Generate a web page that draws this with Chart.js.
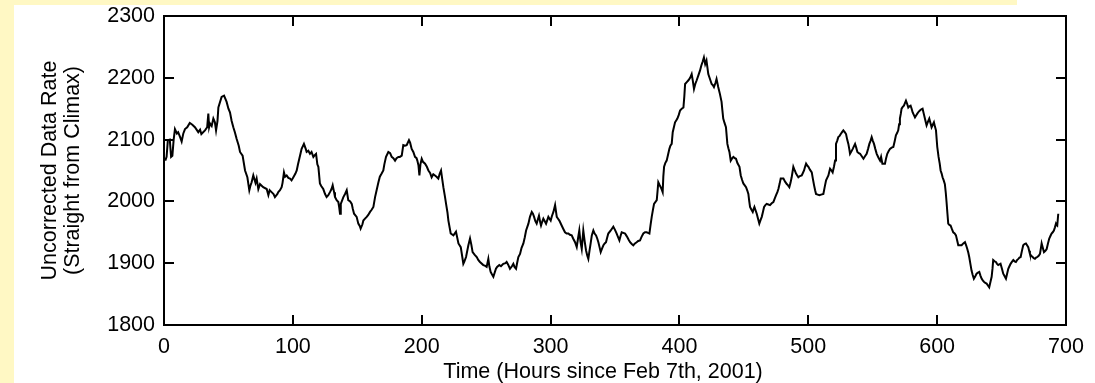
<!DOCTYPE html>
<html>
<head>
<meta charset="utf-8">
<script src="https://cdn.jsdelivr.net/npm/chart.js@4.4.1/dist/chart.umd.min.js"></script>
<style>
  html, body { margin: 0; padding: 0; background: #fff; }
  body { width: 1095px; height: 383px; position: relative; overflow: hidden; }
  .strip { position: absolute; background: #fff8c4; }
  #top { left: 0; top: 0; width: 1017px; height: 5px; }
  #left { left: 0; top: 0; width: 14px; height: 383px; }
  #wrap { position: absolute; left: 14px; top: 5px; width: 1081px; height: 378px; }
</style>
</head>
<body>
<div class="strip" id="top"></div>
<div class="strip" id="left"></div>
<div id="wrap"><canvas id="chart" width="1081" height="378"></canvas></div>
<script>
// Uncorrected data rate, hour by hour (roughly)
const hours = [
  1, 2, 3, 4.5, 5.5, 6.5, 7.5, 8.5, 10, 11,
  12.5, 13.7, 15, 16.3, 18, 20, 22, 24, 26.6, 28,
  29, 31.8, 33.5, 34.4, 35, 35.7, 37, 38.3, 39.5, 40.4,
  41.5, 42.2, 44.7, 46.6, 48.6, 50, 51.2, 52.5, 53.8, 55,
  56.4, 58, 59, 61, 62.9, 64.7, 66.2, 67, 68, 69.3,
  71, 71.9, 73.2, 74.5, 76, 77, 79.7, 81, 82, 83.5,
  85, 86.1, 88, 88.7, 90, 91.3, 92, 93.1, 94, 95.2,
  96.5, 97.8, 99, 100.4, 102, 103, 104, 105, 106, 106.8,
  108.6, 110, 110.7, 112, 113.3, 114.5, 115.9, 117, 118, 119,
  119.8, 121, 122, 123.6, 125, 126.2, 127.5, 128.8, 130, 130.9,
  132, 132.7, 134, 135.3, 136, 136.6, 137.2, 139.2, 140.5, 141.8,
  143, 144.5, 145.7, 146.5, 147.5, 149.5, 150.8, 152, 152.6, 154,
  154.7, 156, 157.3, 158.5, 159.9, 161, 162.5, 163.8, 165, 166.4,
  167.5, 168.9, 170.2, 171, 172.3, 174.1, 175.5, 176.7, 178, 179.3,
  180.5, 181.9, 183, 184.5, 185.7, 187, 188.3, 190.1, 191, 192.2,
  193.5, 194.8, 196, 196.6, 197.5, 198.2, 199, 200, 201, 202.6,
  204, 205.2, 206.5, 207.7, 209, 210.3, 211.5, 212.9, 214, 215,
  216, 216.8, 218, 218.9, 220, 220.7, 222.5, 224.6, 226.6, 228.5,
  230.3, 231.5, 232.3, 233, 234.4, 236.2, 237.5, 238.5, 239.5, 241,
  242.7, 244, 245.2, 247.8, 249, 250.4, 251.7, 252.5, 253.5, 254.5,
  255.6, 257.6, 258.5, 260.2, 261.5, 263.3, 265, 265.9, 267, 268.5,
  270, 271.1, 272, 273.2, 274, 275, 276.3, 277.5, 278.9, 280,
  281, 282.8, 284, 285.4, 286.3, 287.2, 288.2, 289.2, 290, 291,
  292, 292.6, 293.5, 294.4, 295.5, 296.5, 297.5, 298.3, 299.2, 300.1,
  301, 302.2, 303.5, 304.8, 305.8, 306.8, 307.7, 308.6, 310, 311.2,
  312.5, 313.8, 315, 316.4, 317.5, 319, 320.3, 321.3, 322.3, 323.2,
  324.2, 325.4, 326.5, 327.5, 328.5, 329.3, 330.2, 331.1, 332, 333.2,
  334.2, 335.3, 336.2, 337.1, 338, 338.9, 340, 341, 342, 343,
  344, 344.8, 346.7, 348.7, 350, 351.3, 352.4, 353.4, 354.3, 355.2,
  356.5, 357.8, 358.7, 359.6, 360.6, 361.7, 363, 364.2, 365.5, 366.8,
  368, 369.4, 370.7, 372, 373.3, 374.6, 375.6, 376.7, 377.6, 378.5,
  379.4, 380.3, 382.4, 383, 383.6, 384.5, 385.5, 386.3, 387, 387.5,
  388.1, 389, 390.1, 391.2, 392.2, 393, 394, 394.8, 395.7, 396.6,
  397.5, 398.4, 399.5, 400.5, 401.8, 403.1, 403.8, 404.4, 405.7, 407,
  408.3, 409.5, 410.4, 411.3, 412.3, 413.4, 414.7, 416, 417, 418,
  419, 420, 421, 422.4, 423.7, 425, 426, 426.8, 428, 428.8,
  430.1, 431.4, 432.7, 433.3, 434, 435, 436.1, 437.2, 438, 438.8,
  439.8, 441, 441.9, 443, 443.9, 445, 446.6, 447.6, 448.6, 449.6,
  450.7, 451.7, 452.6, 453.5, 454.2, 454.8, 455.8, 456.9, 457.5, 458.2,
  459, 460, 461, 462, 463, 463.9, 464.8, 465.7, 466.7, 467.7,
  469, 470.3, 471.6, 472.9, 474, 475, 476, 476.8, 477.7, 478.6,
  479.6, 480.7, 482, 483.3, 484.3, 485.3, 486.2, 487.1, 487.8, 488.4,
  489.5, 490.5, 491.4, 492.3, 493.5, 494.9, 495.8, 496.7, 497.5, 498.3,
  499.2, 500.1, 501.4, 502.7, 503.6, 504.5, 505.3, 506, 507.3, 508.6,
  510, 511.7, 512.8, 513.8, 514.7, 515.6, 516.3, 516.9, 518, 518.9,
  520, 520.8, 521.5, 522.4, 523.3, 524.3, 525.2, 526.2, 527.2, 528.3,
  529.3, 530.2, 531.1, 531.8, 532.4, 533.5, 534.5, 535.4, 536.3, 537.2,
  538.1, 539.2, 540.2, 541.5, 542.8, 544, 545.3, 546.4, 547.4, 548.3,
  549.2, 550.1, 551, 552, 553.1, 554.4, 555.7, 556.5, 557.5, 559.5,
  560.4, 561.3, 562.3, 563.4, 564.7, 566, 567, 568, 569, 569.8,
  570.5, 571.1, 571.8, 572.4, 573.3, 574.2, 575, 575.8, 576.7, 577.6,
  578.5, 579.4, 580.2, 581, 581.9, 582.8, 583.7, 584.6, 585.6, 586.6,
  587.7, 588.7, 589.6, 590.5, 591.2, 591.8, 592.9, 593.9, 594.8, 595.7,
  596.6, 597.5, 598.3, 599.1, 600.1, 601.1, 602, 602.7, 603.5, 604.2,
  605.1, 606, 606.7, 607.3, 608, 608.6, 609.5, 610.4, 611.5, 612.5,
  613.6, 614.6, 615.5, 616.4, 617.7, 619, 620.3, 621.6, 622.5, 623.4,
  624.2, 624.9, 625.8, 626.7, 627.6, 628.5, 629.6, 630.6, 631.7, 632.7,
  633.6, 634.5, 635.4, 636.3, 637.4, 638.4, 639.4, 640.4, 641.4, 642.3,
  643, 643.5, 644.6, 645.6, 646.5, 647.4, 648.3, 649.2, 650.3, 651.3,
  652.4, 653.4, 654.3, 655.2, 656.1, 657, 658, 659.1, 660.1, 661.1,
  662, 663, 663.9, 664.8, 665.8, 666.8, 667.8, 668.9, 669.8, 670.7,
  671.4, 672, 673, 674.1, 675, 675.9, 676.8, 677.7, 678.8, 679.8,
  680.5, 681.1, 682, 682.9, 684, 685, 686, 687, 687.9, 688.8,
  689.7, 690.6, 691.4, 692.2, 692.7, 693.2, 694
];

const rate = [
  2066, 2072, 2099, 2100, 2072, 2074, 2100, 2117, 2110, 2112,
  2104, 2097, 2110, 2117, 2120, 2127, 2124, 2120, 2112, 2116,
  2109, 2115, 2120, 2142, 2120, 2126, 2122, 2134, 2128, 2115,
  2130, 2152, 2169, 2171, 2161, 2150, 2144, 2130, 2120, 2112,
  2101, 2090, 2080, 2074, 2050, 2039, 2018, 2025, 2031, 2042,
  2030, 2037, 2020, 2028, 2025, 2023, 2020, 2010, 2018, 2015,
  2012, 2007, 2012, 2015, 2018, 2023, 2030, 2047, 2040, 2042,
  2038, 2037, 2034, 2039, 2045, 2050, 2060, 2069, 2078, 2085,
  2093, 2085, 2080, 2082, 2077, 2080, 2072, 2075, 2077, 2060,
  2056, 2029, 2025, 2020, 2012, 2007, 2010, 2015, 2020, 2026,
  2015, 2007, 2002, 1999, 1990, 1980, 1996, 2007, 2012, 2018,
  2002, 2000, 1996, 1988, 1980, 1975, 1964, 1960, 1956, 1963,
  1969, 1972, 1975, 1978, 1983, 1986, 1991, 2007, 2018, 2031,
  2040, 2045, 2050, 2060, 2072, 2080, 2078, 2072, 2070, 2066,
  2070, 2072, 2072, 2074, 2091, 2090, 2091, 2099, 2095, 2085,
  2080, 2072, 2070, 2066, 2058, 2042, 2060, 2069, 2064, 2061,
  2056, 2050, 2046, 2039, 2044, 2042, 2040, 2037, 2045, 2050,
  2035, 2023, 2008, 1996, 1982, 1969, 1948, 1945, 1951, 1932,
  1926, 1910, 1899, 1902, 1910, 1929, 1940, 1930, 1918, 1914,
  1910, 1905, 1902, 1897, 1896, 1894, 1907, 1895, 1886, 1882,
  1878, 1891, 1894, 1897, 1895, 1899, 1900, 1902, 1898, 1891,
  1895, 1899, 1894, 1891, 1900, 1910, 1915, 1925, 1932, 1942,
  1953, 1964, 1975, 1983, 1980, 1975, 1968, 1964, 1970, 1977,
  1966, 1961, 1967, 1972, 1968, 1964, 1970, 1975, 1972, 1969,
  1976, 1983, 1994, 1975, 1972, 1969, 1965, 1961, 1955, 1950,
  1948, 1948, 1946, 1945, 1940, 1934, 1926, 1940, 1953, 1935,
  1923, 1953, 1935, 1921, 1912, 1907, 1920, 1932, 1945, 1953,
  1948, 1945, 1940, 1934, 1926, 1918, 1924, 1929, 1932, 1934,
  1942, 1948, 1953, 1959, 1954, 1948, 1942, 1937, 1944, 1950,
  1949, 1948, 1945, 1942, 1938, 1934, 1931, 1929, 1932, 1934,
  1936, 1937, 1943, 1948, 1950, 1950, 1949, 1948, 1962, 1975,
  1986, 1996, 2002, 2016, 2031, 2027, 2023, 2019, 2015, 2040,
  2056, 2062, 2066, 2076, 2085, 2090, 2093, 2112, 2120, 2128,
  2131, 2134, 2140, 2147, 2150, 2152, 2170, 2190, 2193, 2196,
  2200, 2206, 2195, 2182, 2190, 2196, 2204, 2212, 2220, 2226,
  2233, 2222, 2228, 2206, 2198, 2190, 2188, 2185, 2192, 2198,
  2185, 2174, 2161, 2148, 2134, 2127, 2120, 2093, 2086, 2080,
  2066, 2070, 2072, 2070, 2069, 2062, 2056, 2042, 2035, 2029,
  2026, 2023, 2018, 2012, 2000, 1991, 1987, 1983, 1987, 1991,
  1986, 1980, 1972, 1964, 1970, 1975, 1983, 1991, 1994, 1996,
  1995, 1994, 1997, 1999, 2005, 2010, 2015, 2020, 2028, 2037,
  2037, 2037, 2032, 2028, 2026, 2023, 2030, 2039, 2048, 2056,
  2050, 2045, 2042, 2039, 2041, 2042, 2046, 2050, 2056, 2061,
  2058, 2056, 2051, 2047, 2036, 2026, 2018, 2012, 2011, 2010,
  2011, 2012, 2024, 2034, 2038, 2042, 2048, 2053, 2050, 2047,
  2057, 2066, 2093, 2098, 2104, 2106, 2109, 2112, 2115, 2112,
  2109, 2100, 2093, 2085, 2077, 2081, 2085, 2089, 2093, 2087,
  2080, 2078, 2077, 2073, 2069, 2073, 2077, 2085, 2093, 2098,
  2104, 2098, 2093, 2085, 2077, 2071, 2066, 2072, 2061, 2061,
  2070, 2077, 2081, 2085, 2087, 2088, 2097, 2107, 2111, 2115,
  2125, 2134, 2142, 2150, 2153, 2155, 2159, 2163, 2158, 2152,
  2154, 2155, 2150, 2144, 2140, 2136, 2139, 2142, 2145, 2147,
  2149, 2150, 2142, 2134, 2128, 2123, 2129, 2134, 2127, 2120,
  2124, 2128, 2121, 2115, 2088, 2072, 2061, 2050, 2045, 2039,
  2034, 2028, 2014, 1999, 1980, 1964, 1962, 1961, 1955, 1950,
  1948, 1945, 1937, 1929, 1929, 1929, 1932, 1934, 1929, 1923,
  1917, 1910, 1899, 1888, 1881, 1875, 1879, 1883, 1885, 1886,
  1880, 1875, 1872, 1870, 1868, 1867, 1864, 1861, 1870, 1878,
  1892, 1905, 1903, 1902, 1899, 1897, 1898, 1899, 1891, 1883,
  1879, 1875, 1883, 1891, 1895, 1899, 1902, 1905, 1903, 1902,
  1905, 1907, 1909, 1910, 1920, 1929, 1931, 1932, 1929, 1926,
  1920, 1915, 1912, 1910, 1908, 1907, 1909, 1910, 1912, 1915,
  1924, 1932, 1925, 1918, 1920, 1923, 1932, 1940, 1944, 1948,
  1950, 1953, 1958, 1964, 1962, 1961, 1980
];

const xTicks = [0, 100, 200, 300, 400, 500, 600, 700];
const yTicks = [1800, 1900, 2000, 2100, 2200, 2300];

const FONT = "'Liberation Sans', Arial, sans-serif";
const SIZE = 21.5;

// MATLAB style box with inward ticks on all four sides
const frame = {
  id: 'frame',
  afterDraw(chart) {
    const { ctx, chartArea: a, scales: { x, y } } = chart;
    const len = 10;
    ctx.save();
    ctx.strokeStyle = '#000';
    ctx.lineWidth = 2;
    ctx.strokeRect(a.left, a.top, a.right - a.left, a.bottom - a.top);
    ctx.beginPath();
    xTicks.slice(1, -1).forEach(v => {
      const px = Math.round(x.getPixelForValue(v));
      ctx.moveTo(px, a.bottom); ctx.lineTo(px, a.bottom - len);
      ctx.moveTo(px, a.top); ctx.lineTo(px, a.top + len);
    });
    yTicks.slice(1, -1).forEach(v => {
      const py = Math.round(y.getPixelForValue(v));
      ctx.moveTo(a.left, py); ctx.lineTo(a.left + len, py);
      ctx.moveTo(a.right, py); ctx.lineTo(a.right - len, py);
    });
    ctx.stroke();
    ctx.restore();
  }
};

const n = Math.min(hours.length, rate.length);
const points = [];
for (let i = 0; i < n; i++) points.push({ x: hours[i], y: rate[i] });

new Chart(document.getElementById('chart'), {
  type: 'line',
  data: {
    datasets: [{
      data: points,
      borderColor: '#000',
      borderWidth: 2,
      pointRadius: 0,
      tension: 0,
      fill: false
    }]
  },
  options: {
    responsive: false,
    animation: false,
    layout: { padding: { top: 11, right: 29, left: 0, bottom: 0 } },
    plugins: { legend: { display: false }, tooltip: { enabled: false } },
    scales: {
      x: {
        type: 'linear',
        min: 0,
        max: 700,
        afterBuildTicks: s => { s.ticks = xTicks.map(v => ({ value: v })); },
        afterFit: s => { s.height = 58; s.paddingLeft = 0; s.paddingRight = 0; },
        grid: { display: false, drawTicks: false },
        border: { display: false },
        ticks: {
          color: '#000', padding: 9, maxRotation: 0,
          font: { family: FONT, size: SIZE },
          callback: v => String(v)
        },
        title: {
          display: true,
          // trailing spaces nudge the label a little left, as in the original
          text: 'Time (Hours since Feb 7th, 2001)\u00a0\u00a0\u00a0\u00a0',
          color: '#000',
          font: { family: FONT, size: SIZE, lineHeight: 1.0 },
          padding: { top: 0, bottom: 0 }
        }
      },
      y: {
        min: 1800,
        max: 2300,
        afterBuildTicks: s => { s.ticks = yTicks.map(v => ({ value: v })); },
        afterFit: s => { s.width = 150; s.paddingTop = 0; s.paddingBottom = 0; },
        grid: { display: false, drawTicks: false },
        border: { display: false },
        ticks: {
          color: '#000', padding: 9,
          font: { family: FONT, size: SIZE },
          callback: v => String(v)
        },
        title: {
          display: true,
          text: ['Uncorrected Data Rate', '(Straight from Climax)'],
          color: '#000',
          font: { family: FONT, size: SIZE, lineHeight: 23 / SIZE },
          padding: { top: 25, bottom: 0 }
        }
      }
    }
  },
  plugins: [frame]
});
</script>
</body>
</html>
